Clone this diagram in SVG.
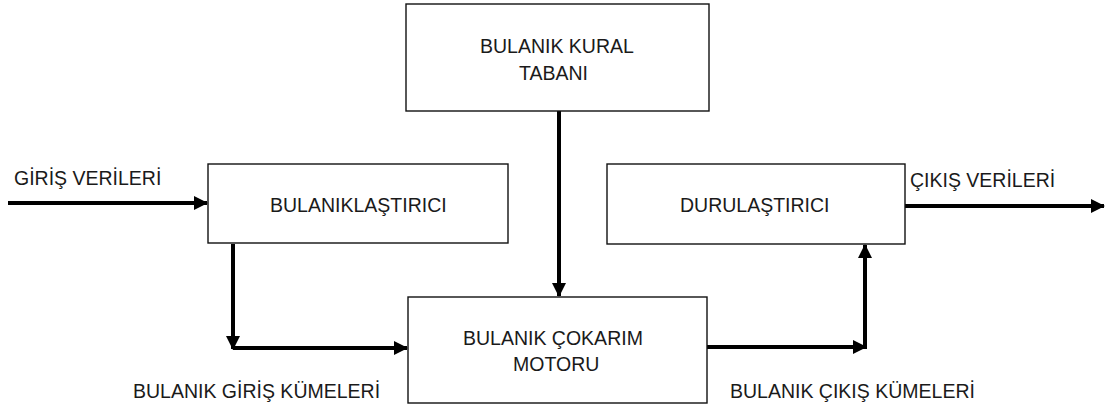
<svg xmlns="http://www.w3.org/2000/svg" width="1106" height="407" viewBox="0 0 1106 407">
<style>
.box{fill:#fff;stroke:#111;stroke-width:1.4}
.t{font-family:"Liberation Sans",Arial,sans-serif;font-size:19.5px;fill:#1a1a1a}
.c{fill:none;stroke:#000;stroke-width:4}
</style>
<defs>
<marker id="ah" markerUnits="userSpaceOnUse" markerWidth="14" markerHeight="14" viewBox="0 0 14 14" refX="13" refY="7" orient="auto">
<path d="M0,0 L14,7 L0,14 Z" fill="#000"/>
</marker>
</defs>
<rect width="1106" height="407" fill="#fff"/>
<g id="connectors">
<line class="c" x1="8" y1="203" x2="207" y2="203" marker-end="url(#ah)"/>
<line class="c" x1="233" y1="244" x2="233" y2="349" marker-end="url(#ah)"/>
<line class="c" x1="233" y1="348" x2="407" y2="348" marker-end="url(#ah)"/>
<line class="c" x1="559" y1="111" x2="559" y2="296" marker-end="url(#ah)"/>
<line class="c" x1="707" y1="347" x2="866" y2="347" marker-end="url(#ah)"/>
<line class="c" x1="865" y1="349" x2="865" y2="245" marker-end="url(#ah)"/>
<line class="c" x1="905" y1="206" x2="1104" y2="206" marker-end="url(#ah)"/>
</g>
<g id="fuzzifier">
<rect class="box" x="208" y="164" width="300" height="79"/>
<text class="t" x="270" y="212">BULANIKLAŞTIRICI</text>
</g>
<g id="rulebase">
<rect class="box" x="406" y="4" width="303" height="107"/>
<text class="t" x="480" y="53">BULANIK KURAL</text>
<text class="t" x="519" y="80">TABANI</text>
</g>
<g id="engine">
<rect class="box" x="408" y="297" width="299" height="106"/>
<text class="t" x="463" y="345">BULANIK ÇOKARIM</text>
<text class="t" x="513" y="371">MOTORU</text>
</g>
<g id="defuzzifier">
<rect class="box" x="607" y="164" width="298" height="80"/>
<text class="t" x="680" y="212">DURULAŞTIRICI</text>
</g>
<g id="labels">
<text class="t" x="14" y="185">GİRİŞ VERİLERİ</text>
<text class="t" x="910" y="187">ÇIKIŞ VERİLERİ</text>
<text class="t" x="133" y="398">BULANIK GİRİŞ KÜMELERİ</text>
<text class="t" x="730" y="398">BULANIK ÇIKIŞ KÜMELERİ</text>
</g>
</svg>
